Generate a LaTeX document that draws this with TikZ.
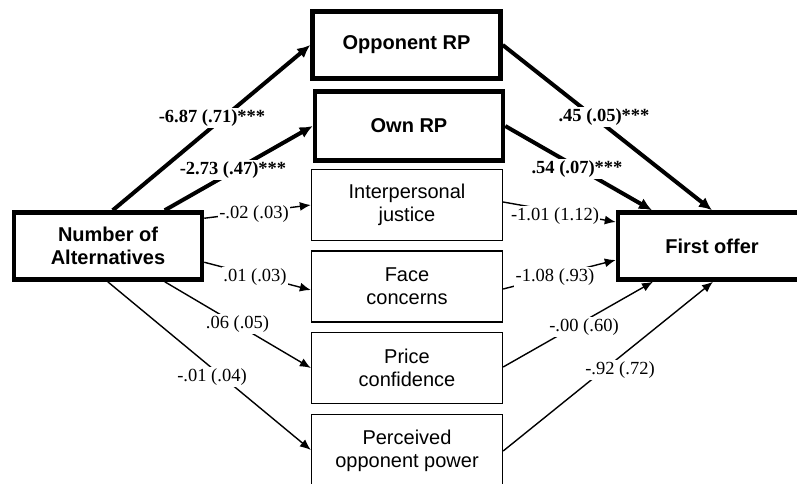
\documentclass[tikz,border=0pt]{standalone}
\usepackage{fontspec}
\setmainfont{Liberation Serif}
\setsansfont{Liberation Sans}
\usetikzlibrary{arrows.meta,calc}
\begin{document}
\begin{tikzpicture}[x=1pt,y=-1pt,
  thickbox/.style={draw, line width=4.5pt, inner sep=0pt, minimum width=188pt, minimum height=67pt,
    font=\sffamily\bfseries\fontsize{20}{23}\selectfont, align=center},
  thinbox/.style={draw, line width=1.3pt, inner sep=0pt, minimum width=191pt, minimum height=71pt,
    font=\sffamily\fontsize{20}{23}\selectfont, align=center},
  thickarr/.style={line width=4pt, -{Latex[length=13pt,width=12pt]}},
  thinarr/.style={line width=1.4pt, -{Latex[length=11pt,width=9pt]}},
  lab/.style={fill=white, inner sep=1.5pt, font=\fontsize{18.5}{20}\selectfont},
  blab/.style={fill=white, inner sep=1.5pt, font=\bfseries\fontsize{18.5}{20}\selectfont}]
\useasboundingbox (0,0) rectangle (797,483);
% boxes
\node[thickbox] (alt) at (108,246) {Number of\\Alternatives};
\node[thickbox] (opp) at (406.5,45) {Opponent RP};
\node[thickbox, minimum height=69pt] (own) at (409,126) {Own RP};
\node[thinbox] (ij) at (407,205) {Interpersonal\\justice};
\node[thinbox] (fc) at (407,286.5) {Face\\concerns};
\node[thinbox] (pc) at (407,368) {Price\\confidence};
\node[thinbox, minimum height=73pt] (pop) at (407,451) {Perceived\\opponent power};
\node[thickbox] (fo) at (712,246) {First offer};
% left connectors
\draw[thickarr] ([xshift=101pt]alt.north west) -- (opp.west);
\draw[thickarr] ([xshift=153pt]alt.north west) -- (own.west);
\draw[thinarr] ([yshift=-8pt]alt.north east) -- (ij.west);
\draw[thinarr] ([yshift=-52pt]alt.north east) -- ([yshift=-3.5pt]fc.west);
\draw[thinarr] ([xshift=153pt]alt.south west) -- (pc.west);
\draw[thinarr] ([xshift=96pt]alt.south west) -- ([yshift=1pt]pop.west);
% right connectors
\draw[thickarr] (opp.east) -- (fo.north);
\draw[thickarr] (own.east) -- ([xshift=-60pt]fo.north);
\draw[thinarr] ([yshift=3pt]ij.east) -- ([yshift=24pt]fo.west);
\draw[thinarr] ([yshift=-2.5pt]fc.east) -- ([yshift=-14pt]fo.west);
\draw[thinarr] ([yshift=1pt]pc.east) -- ([xshift=-59pt]fo.south);
\draw[thinarr] (pop.east) -- ([xshift=1pt]fo.south);
% labels
\node[blab] (l1) at (212,118) {-6.87 (.71)***};
\node[blab] (l2) at (233,170) {-2.73 (.47)***};
\node[lab] (l3) at (254,214) {-.02 (.03)};
\node[lab] (l4) at (255,277) {.01 (.03)};
\node[lab] (l5) at (237.5,324) {.06 (.05)};
\node[lab] (l6) at (212,377) {-.01 (.04)};
\node[blab] (r1) at (604,117) {.45 (.05)***};
\node[blab] (r2) at (577,169) {.54 (.07)***};
\node[lab] (r3) at (555,216) {-1.01 (1.12)};
\node[lab] (r4) at (555,277) {-1.08 (.93)};
\node[lab] (r5) at (584,327) {-.00 (.60)};
\node[lab] (r6) at (620,370) {-.92 (.72)};
\end{tikzpicture}
\end{document}
